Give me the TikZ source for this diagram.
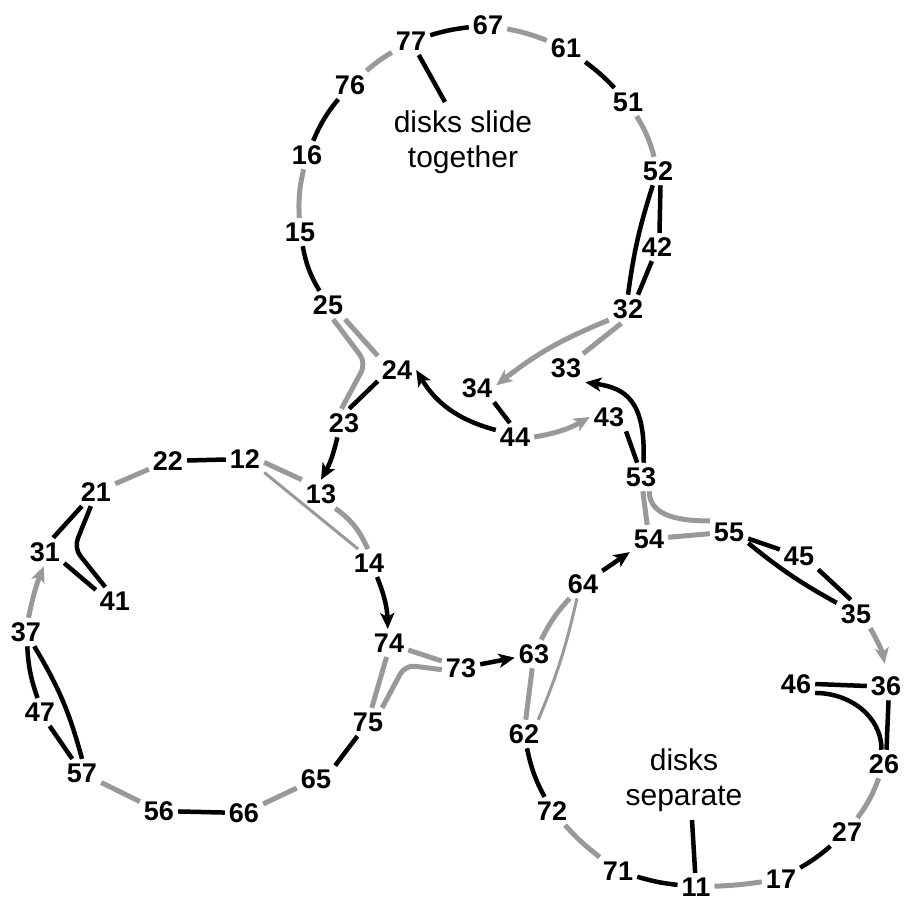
\documentclass[tikz,border=0pt]{standalone}
\usepackage{fontspec}
\setmainfont{Liberation Sans}
\usetikzlibrary{arrows.meta}
\definecolor{lg}{RGB}{153,153,153}
\begin{document}
\begin{tikzpicture}[x=1pt,y=1pt,
 lab/.style={font=\bfseries\fontsize{27}{27}\selectfont, inner xsep=4pt, inner ysep=4.5pt},
 txt/.style={font=\fontsize{30}{35}\selectfont, align=center, inner sep=0pt},
 blk/.style={draw=black, line width=4.5pt},
 gry/.style={draw=lg, line width=5pt},
 thn/.style={draw=lg, line width=3pt},
 arr/.style={-{Stealth[length=16pt,width=14pt,inset=4pt]}},
]
\useasboundingbox (0,0) rectangle (904,-899);
% top circle
\node[lab] (n77) at (411,-41) {77};
\node[lab] (n67) at (488,-25) {67};
\node[lab] (n61) at (566,-48) {61};
\node[lab] (n51) at (628,-102) {51};
\node[lab] (n52) at (658,-171) {52};
\node[lab] (n42) at (657,-247) {42};
\node[lab] (n32) at (628,-309) {32};
\node[lab] (n33) at (566,-368) {33};
\node[lab] (n34) at (477,-388) {34};
\node[lab] (n24) at (397,-370) {24};
\node[lab] (n25) at (328,-305) {25};
\node[lab] (n23) at (344,-423) {23};
\node[lab] (n44) at (515,-437) {44};
\node[lab] (n43) at (609,-417) {43};
\node[lab] (n15) at (300,-232) {15};
\node[lab] (n16) at (307,-155) {16};
\node[lab] (n76) at (350,-85) {76};
% left circle
\node[lab] (n22) at (168,-461) {22};
\node[lab] (n12) at (245,-459) {12};
\node[lab] (n21) at (96,-492) {21};
\node[lab] (n13) at (321,-494) {13};
\node[lab] (n31) at (45,-552) {31};
\node[lab] (n41) at (115,-601) {41};
\node[lab] (n14) at (369,-563) {14};
\node[lab] (n37) at (26,-632) {37};
\node[lab] (n74) at (389,-643) {74};
\node[lab] (n47) at (40,-712) {47};
\node[lab] (n57) at (82,-773) {57};
\node[lab] (n56) at (159,-811) {56};
\node[lab] (n66) at (244,-813) {66};
\node[lab] (n65) at (316,-779) {65};
\node[lab] (n75) at (368,-722) {75};
\node[lab] (n73) at (461,-668) {73};
% right circle
\node[lab] (n63) at (534,-654) {63};
\node[lab] (n53) at (641,-477) {53};
\node[lab] (n54) at (649,-539) {54};
\node[lab] (n55) at (729,-532) {55};
\node[lab] (n45) at (799,-556) {45};
\node[lab] (n64) at (583,-584) {64};
\node[lab] (n35) at (856,-614) {35};
\node[lab] (n36) at (886,-686) {36};
\node[lab] (n46) at (796,-684) {46};
\node[lab] (n62) at (524,-734) {62};
\node[lab] (n26) at (884,-764) {26};
\node[lab] (n72) at (552,-811) {72};
\node[lab] (n27) at (847,-832) {27};
\node[lab] (n71) at (618,-871) {71};
\node[lab] (n17) at (781,-879) {17};
\node[lab] (n11) at (696,-887) {11};
% texts
\node[txt] (t1) at (463,-142.5) {disks slide\\together};
\node[txt] (t2) at (684,-780) {disks\\separate};
\coordinate (l1) at (445,-102);
\coordinate (l2) at (692,-820);
\coordinate (e1) at (366,-363);
\coordinate (e2) at (74,-548);
\coordinate (e3) at (405,-665);
% top circle connectors
\draw[blk] (n77) -- (l1);
\draw[blk] (n77) to[bend left=5] (n67);
\draw[gry] (n67) to[bend left=5] (n61);
\draw[blk] (n61) to[bend left=5] (n51);
\draw[gry] (n51) to[bend left=8] (n52);
\draw[blk] (n52.-80) -- (n42.80);
\draw[blk] (n52.-110) to[bend right=5] (n32.north);
\draw[blk] (n42.-110) -- (n32.55);
\draw[gry] (n32.-115) -- (n33.40);
\draw[gry,arr] (n32.-150) to[bend right=8] (n34.8);
\draw[blk] (n34.-40) -- (n44.110);
\draw[blk,arr] (n44.160) to[bend left=22] (n24.east);
\draw[gry,arr] (n44.east) to[bend right=10] (n43.west);
\draw[blk,arr] (n53.80) .. controls (646,-400) and (625,-388) .. (n33.south east);
\draw[blk] (n43.-40) -- (n53.105);
\draw[blk] (n15) to[bend right=10] (n25);
\draw[gry] (n16) to[bend right=8] (n15);
\draw[blk] (n76) to[bend right=8] (n16);
\draw[gry] (n77) to[bend right=5] (n76);
\draw[gry] (n25.-40) -- (n24.north west);
\draw[gry,rounded corners=10pt] (n25.-70) -- (e1) -- (n23.100);
\draw[blk] (n24.-150) -- (n23.70);
\draw[blk,arr] (n23.-115) to[bend left=8] (n13.north);
% left circle connectors
\draw[gry] (n22) -- (n21);
\draw[blk] (n22) -- (n12);
\draw[gry] (n12.-10) -- (n13.north west);
\draw[thn] (n12.-35) -- (n14.128);
\draw[gry] (n13.-45) to[bend left=15] (n14.95);
\draw[blk,arr] (n14.-60) to[bend left=10] (n74.95);
\draw[blk] (n21.-135) -- (n31.60);
\draw[blk,rounded corners=10pt] (n21.-110) -- (e2) -- (n41.125);
\draw[blk] (n31.-30) -- (n41.150);
\draw[gry,arr] (n37.80) to[bend left=5] (n31.-95);
\draw[blk] (n37.-85) to[bend right=8] (n47.100);
\draw[blk] (n47) -- (n57);
\draw[blk] (n37.-60) to[bend left=8] (n57.north);
\draw[gry] (n57) -- (n56);
\draw[blk] (n56) -- (n66);
\draw[gry] (n66) -- (n65);
\draw[blk] (n65.35) -- (n75);
\draw[gry] (n74.-100) -- (n75.75);
\draw[gry,rounded corners=10pt] (n75.45) -- (e3) -- (n73.185);
\draw[gry] (n74.-20) -- (n73.160);
\draw[blk,arr] (n73) -- (n63);
% right circle connectors
\draw[gry] (n53) -- (n54);
\draw[gry] (n53.-60) to[out=-90,in=180] (n55.150);
\draw[gry] (n54) -- (n55);
\draw[blk,arr] (n64) -- (n54);
\draw[blk] (n55) -- (n45);
\draw[blk] (n45.-35) -- (n35.110);
\draw[blk] (n55.-30) to[bend right=5] (n35.150);
\draw[gry,arr,shorten >=8pt] (n35.-45) to[bend left=10] (n36.north);
\draw[blk] (n46.east) -- (n36.west);
\draw[blk] (n46.-25) to[out=0,in=90] (n26.100);
\draw[blk] (n36.-80) -- (n26.80);
\draw[gry] (n26) to[bend left=8] (n27);
\draw[blk] (n27) to[bend left=5] (n17);
\draw[gry] (n17) to[bend left=3] (n11);
\draw[blk] (n11) to[bend left=5] (n71);
\draw[gry] (n71) to[bend left=5] (n72);
\draw[blk] (n72) to[bend left=8] (n62);
\draw[gry] (n62) -- (n63);
\draw[gry] (n63) to[bend left=8] (n64);
\draw[thn] (n62.45) to[bend right=5] (n64.-113);
\draw[blk] (l2) -- (n11);
\end{tikzpicture}
\end{document}
